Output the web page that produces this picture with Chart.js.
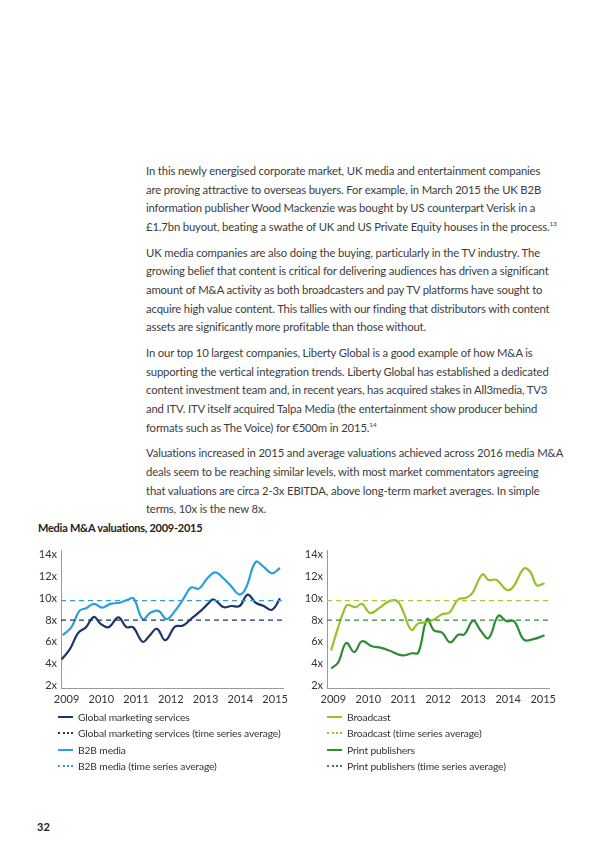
<!DOCTYPE html>
<html>
<head>
<meta charset="utf-8">
<script src="https://cdn.jsdelivr.net/npm/chart.js@4.4.1/dist/chart.umd.min.js"></script>
<style>
  body { margin: 0; background: #fff; width: 600px; height: 848px; position: relative; overflow: hidden;
    font-family: Lato, sans-serif; color: #333; }
  .body-text { position: absolute; left: 146px; top: 162px; width: 430px; font-size: 11.3px; line-height: 18.6px;
    letter-spacing: -0.15px; font-weight: 400; color: #3c3c3c; }
  .body-text p { margin: 0 0 7.4px 0; white-space: nowrap; }
  .body-text sup { font-size: 6.5px; line-height: 0; vertical-align: 5px; }
  .title { position: absolute; left: 38px; top: 521px; font-size: 11px; font-weight: 700; color: #222; letter-spacing: -0.25px; }
  .chart-box { position: absolute; top: 540px; height: 170px; }
  .legend { position: absolute; top: 709px; font-size: 10.3px; line-height: 16.3px; color: #333; letter-spacing: -0.15px; }
  .legend div { position: relative; padding-left: 20px; white-space: nowrap; }
  .legend span { position: absolute; left: 0; top: 7px; width: 15px; height: 0; }
  .page { position: absolute; left: 37px; top: 820px; font-size: 11px; font-weight: 700; color: #222; }
</style>
</head>
<body>
<div class="body-text">
  <p>In this newly energised corporate market, UK media and entertainment companies<br>
  are proving attractive to overseas buyers. For example, in March 2015 the UK B2B<br>
  information publisher Wood Mackenzie was bought by US counterpart Verisk in a<br>
  £1.7bn buyout, beating a swathe of UK and US Private Equity houses in the process.<sup>13</sup></p>
  <p>UK media companies are also doing the buying, particularly in the TV industry. The<br>
  growing belief that content is critical for delivering audiences has driven a significant<br>
  amount of M&amp;A activity as both broadcasters and pay TV platforms have sought to<br>
  acquire high value content. This tallies with our finding that distributors with content<br>
  assets are significantly more profitable than those without.</p>
  <p>In our top 10 largest companies, Liberty Global is a good example of how M&amp;A is<br>
  supporting the vertical integration trends. Liberty Global has established a dedicated<br>
  content investment team and, in recent years, has acquired stakes in All3media, TV3<br>
  and ITV. ITV itself acquired Talpa Media (the entertainment show producer behind<br>
  formats such as The Voice) for €500m in 2015.<sup>14</sup></p>
  <p>Valuations increased in 2015 and average valuations achieved across 2016 media M&amp;A<br>
  deals seem to be reaching similar levels, with most market commentators agreeing<br>
  that valuations are circa 2-3x EBITDA, above long-term market averages. In simple<br>
  terms, 10x is the new 8x.</p>
</div>

<div class="title">Media M&amp;A valuations, 2009-2015</div>

<div class="chart-box" style="left:35px; width:258px;"><canvas id="chartLeft"></canvas></div>
<div class="chart-box" style="left:301px; width:260px;"><canvas id="chartRight"></canvas></div>

<div class="legend" style="left:58px;">
  <div><span style="border-top:2px solid #1b3669;"></span>Global marketing services</div>
  <div><span style="border-top:2px dotted #1b3669;"></span>Global marketing services (time series average)</div>
  <div><span style="border-top:2px solid #2a9fd8;"></span>B2B media</div>
  <div><span style="border-top:2px dotted #2a9fd8;"></span>B2B media (time series average)</div>
</div>
<div class="legend" style="left:327px;">
  <div><span style="border-top:2px solid #97c12b;"></span>Broadcast</div>
  <div><span style="border-top:2px dotted #97c12b;"></span>Broadcast (time series average)</div>
  <div><span style="border-top:2px solid #2f8c32;"></span>Print publishers</div>
  <div><span style="border-top:2px dotted #2f8c32;"></span>Print publishers (time series average)</div>
</div>

<div class="page">32</div>

<script>
// values (x = fractional year, y = EV/EBITDA multiple)
const yearTicks = [2009, 2010, 2011, 2012, 2013, 2014, 2015];
const multipleTicks = [2, 4, 6, 8, 10, 12, 14];

const gmsYears = [2008.86, 2009.09, 2009.33, 2009.56, 2009.79, 2009.98, 2010.21, 2010.49, 2010.72, 2010.91,
  2011.19, 2011.37, 2011.60, 2011.84, 2012.12, 2012.35, 2012.63, 2012.86, 2013.05, 2013.23,
  2013.51, 2013.74, 2013.98, 2014.21, 2014.44, 2014.67, 2014.91, 2015.14];
const gmsValues = [4.4, 5.3, 6.8, 7.35, 8.3, 7.65, 7.35, 8.25, 7.35, 7.35,
  6.0, 6.5, 7.2, 6.15, 7.4, 7.5, 8.25, 8.85, 9.45, 9.9,
  9.2, 9.3, 9.3, 10.35, 9.6, 9.3, 8.95, 10.0];

const b2bYears = [2008.89, 2009.14, 2009.37, 2009.56, 2009.79, 2010.02, 2010.26, 2010.53, 2010.77, 2010.93,
  2011.19, 2011.42, 2011.65, 2011.88, 2012.12, 2012.35, 2012.58, 2012.81, 2013.05, 2013.28,
  2013.51, 2013.74, 2013.98, 2014.16, 2014.44, 2014.67, 2014.91, 2015.14];
const b2bValues = [6.6, 7.35, 8.85, 9.1, 9.5, 9.15, 9.5, 9.6, 9.9, 10.0,
  8.1, 8.7, 8.85, 8.1, 8.85, 9.9, 11.0, 10.9, 11.85, 12.4,
  11.85, 11.1, 10.35, 10.95, 13.35, 12.9, 12.3, 12.8];

const broadcastYears = [2008.94, 2009.14, 2009.32, 2009.41, 2009.64, 2009.82, 2010.05, 2010.33, 2010.60, 2010.83,
  2011.01, 2011.23, 2011.43, 2011.66, 2011.88, 2012.11, 2012.32, 2012.57, 2012.80, 2012.98,
  2013.26, 2013.44, 2013.67, 2013.95, 2014.13, 2014.45, 2014.63, 2014.82, 2015.04];
const broadcastValues = [5.2, 7.35, 9.0, 9.4, 9.2, 9.5, 8.65, 9.15, 9.75, 9.75,
  8.7, 7.1, 7.7, 7.8, 8.05, 8.55, 8.7, 9.9, 10.05, 10.5,
  12.2, 11.7, 11.7, 10.8, 11.0, 12.75, 12.45, 11.2, 11.4];

const printYears = [2008.94, 2009.14, 2009.37, 2009.60, 2009.82, 2010.10, 2010.37, 2010.60, 2010.97, 2011.24,
  2011.43, 2011.68, 2011.88, 2012.11, 2012.34, 2012.57, 2012.75, 2013.00, 2013.21, 2013.44,
  2013.72, 2013.95, 2014.17, 2014.45, 2014.72, 2015.04];
const printValues = [3.55, 4.1, 5.9, 5.05, 6.05, 5.6, 5.45, 5.2, 4.75, 4.95,
  5.0, 8.1, 7.05, 6.85, 5.95, 6.65, 6.7, 7.95, 7.05, 6.35,
  8.4, 7.9, 7.9, 6.2, 6.25, 6.6];

// time series averages
const gmsAverage = 8.0;
const b2bAverage = 9.8;
const broadcastAverage = 9.8;
const printAverage = 8.0;

Chart.defaults.font.family = 'Lato, sans-serif';
Chart.defaults.color = '#333';

const toPoints = (xs, ys) => xs.map((x, i) => ({ x, y: ys[i] }));

function seriesLine(xs, ys, color) {
  return {
    data: toPoints(xs, ys),
    borderColor: color,
    borderWidth: 2.2,
    pointRadius: 0,
    tension: 0.4,
    fill: false,
  };
}

function averageLine(value, min, max, color) {
  return {
    data: [{ x: min, y: value }, { x: max, y: value }],
    borderColor: color,
    borderWidth: 1.3,
    borderDash: [5, 4],
    pointRadius: 0,
    fill: false,
  };
}

function makeChart(id, xMin, xMax, datasets) {
  return new Chart(document.getElementById(id), {
    type: 'line',
    data: { datasets },
    options: {
      responsive: true,
      maintainAspectRatio: false,
      animation: false,
      layout: { padding: { top: 7, right: 3, left: 0, bottom: 0 } },
      plugins: { legend: { display: false }, tooltip: { enabled: false } },
      scales: {
        x: {
          type: 'linear',
          min: xMin,
          max: xMax,
          afterBuildTicks: (s) => { s.ticks = yearTicks.map((v) => ({ value: v })); },
          afterFit: (s) => { s.height = 22; },
          grid: { display: false, drawTicks: false },
          border: { display: true, color: '#9a9a9a', width: 1 },
          ticks: { padding: 5, maxRotation: 0, font: { size: 11 }, color: '#333', callback: (v) => String(v) },
        },
        y: {
          min: 1.75,
          max: 14.4,
          afterBuildTicks: (s) => { s.ticks = multipleTicks.map((v) => ({ value: v })); },
          afterFit: (s) => { s.width = 26; },
          grid: { display: false, drawTicks: false },
          border: { display: true, color: '#9a9a9a', width: 1 },
          ticks: { padding: 4, font: { size: 11 }, color: '#333', callback: (v) => v + 'x' },
        },
      },
    },
  });
}

const leftMin = 2008.84, leftMax = 2015.23;
makeChart('chartLeft', leftMin, leftMax, [
  averageLine(b2bAverage, leftMin, leftMax, '#2a9fd8'),
  averageLine(gmsAverage, leftMin, leftMax, '#1b3669'),
  seriesLine(b2bYears, b2bValues, '#2a9fd8'),
  seriesLine(gmsYears, gmsValues, '#1b3669'),
]);

const rightMin = 2008.82, rightMax = 2015.17;
makeChart('chartRight', rightMin, rightMax, [
  averageLine(broadcastAverage, rightMin, rightMax, '#a5cc3a'),
  averageLine(printAverage, rightMin, rightMax, '#2f8c32'),
  seriesLine(broadcastYears, broadcastValues, '#97c12b'),
  seriesLine(printYears, printValues, '#2f8c32'),
]);
</script>
</body>
</html>
